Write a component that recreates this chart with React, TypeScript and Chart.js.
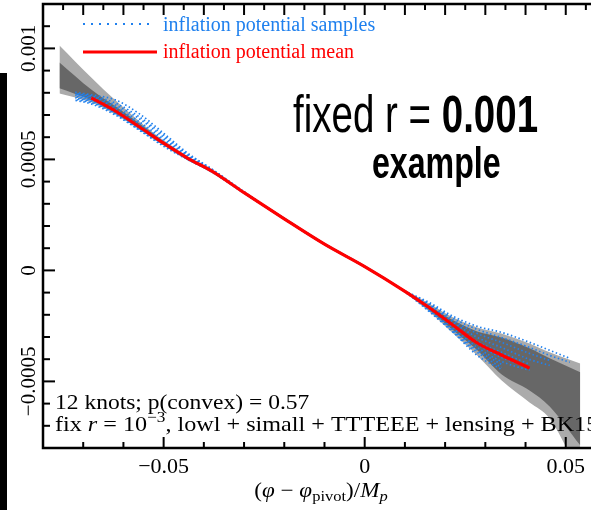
import React, { useEffect, useRef } from 'react';
import { Chart, registerables } from 'chart.js';

Chart.register(...registerables);

// ---------------- data ----------------
const bandX = [-0.0759, -0.068, -0.062, -0.056, -0.05, -0.044, -0.038, -0.03, -0.02, -0.01, 0, 0.01, 0.016, 0.022, 0.028, 0.034, 0.041, 0.046, 0.0536];
const lightUpper = [0.0010135, 0.000869, 0.000766, 0.000671, 0.000586, 0.000514, 0.000454, 0.000357, 0.000239, 0.000125, 0.0000239, -0.0000874, -0.000149, -0.000212, -0.000257, -0.000284, -0.000329, -0.000369, -0.000419];
const lightLower = [0.000797, 0.000757, 0.000703, 0.000635, 0.000563, 0.000496, 0.000441, 0.000343, 0.000226, 0.000112, 0.0000104, -0.000101, -0.000185, -0.000284, -0.000383, -0.000495, -0.000595, -0.000667, -0.000923];
const darkUpper = [0.000937, 0.000815, 0.000739, 0.000662, 0.000581, 0.000512, 0.000452, 0.000355, 0.000237, 0.000123, 0.0000216, -0.0000896, -0.000158, -0.000225, -0.000275, -0.000302, -0.000351, -0.000396, -0.000459];
const darkLower = [0.00082, 0.000766, 0.000707, 0.000637, 0.000565, 0.000499, 0.000443, 0.000345, 0.000228, 0.000114, 0.0000126, -0.0000986, -0.000178, -0.00027, -0.00036, -0.000468, -0.000541, -0.000613, -0.000788];

const meanX = [-0.068, -0.062, -0.056, -0.05, -0.044, -0.038, -0.03, -0.02, -0.01, 0, 0.01, 0.016, 0.022, 0.028, 0.034, 0.041];
const meanY = [0.000777, 0.000718, 0.000646, 0.000573, 0.000505, 0.000447, 0.00035, 0.000232, 0.000118, 0.0000171, -0.0000941, -0.000167, -0.000247, -0.000327, -0.000381, -0.00044];

const sampleX = [-0.072, -0.068, -0.062, -0.056, -0.05, -0.044, -0.038, -0.03, -0.02, -0.01, 0, 0.01, 0.016, 0.022, 0.028, 0.034, 0.041, 0.046, 0.051];
const sample1 = [0.000802, 0.000791, 0.000768, 0.000705, 0.000618, 0.000528, 0.000456, 0.000355, 0.000234, 0.00012, 0.000018, -0.0000919, -0.000144, -0.000207, -0.000252, -0.000279, -0.000324, -0.00036, -0.000396];
const sample2 = [0.000797, 0.000786, 0.000754, 0.000691, 0.000609, 0.000523, 0.000456, 0.000352, 0.000231, 0.000117, 0.0000162, -0.0000928, -0.000149, -0.000216, -0.000266, -0.000302, -0.000347, -0.000383, -0.000414];
const sample3 = [0.000795, 0.000782, 0.000745, 0.000682, 0.0006, 0.000519, 0.000452, 0.00035, 0.000232, 0.000118, 0.0000171, -0.0000937, -0.000153, -0.000225, -0.000284, -0.000324, -0.000374, -0.000405];
const sample4 = [0.000791, 0.000777, 0.000736, 0.000669, 0.000591, 0.000514, 0.000452, 0.00035, 0.000234, 0.00012, 0.000018, -0.0000941, -0.000158, -0.000234, -0.000302, -0.000347, -0.000401, -0.000428];
const sample5 = [0.000788, 0.000773, 0.000727, 0.00066, 0.000582, 0.00051, 0.000447, 0.00035, 0.000231, 0.000117, 0.0000162, -0.0000946, -0.000162, -0.000243, -0.00032, -0.000369, -0.000423];
const sample6 = [0.000784, 0.000768, 0.000718, 0.000651, 0.000577, 0.000505, 0.000447, 0.00035, 0.000232, 0.000118, 0.0000171, -0.0000946, -0.000167, -0.000252, -0.000333, -0.000392, -0.000437];
const sample7 = [0.000779, 0.000764, 0.000714, 0.000642, 0.000573, 0.000503, 0.000445, 0.00035, 0.000234, 0.00012, 0.000018, -0.000095, -0.000171, -0.000261, -0.000347, -0.00041, -0.00045];
const sample8 = [0.000775, 0.000759, 0.000709, 0.000637, 0.000568, 0.000501, 0.000445, 0.00035, 0.000231, 0.000117, 0.0000162, -0.0000955, -0.000176, -0.00027, -0.00036, -0.000423];
const sample9 = [0.00077, 0.000755, 0.000705, 0.000633, 0.000564, 0.000501, 0.000443, 0.000348, 0.000232, 0.000118, 0.0000171, -0.0000959, -0.00018, -0.000275, -0.000369, -0.000437];
const sample10 = [0.000766, 0.00075, 0.0007, 0.000631, 0.000559, 0.000499, 0.000443, 0.000348, 0.000234, 0.00012, 0.000018, -0.0000968, -0.000185, -0.000279, -0.000383, -0.000446];
const samples = [sample1, sample2, sample3, sample4, sample5, sample6, sample7, sample8, sample9, sample10];

const xTickValues = [-0.05, 0, 0.05];
const xTickLabels = ['\u22120.05', '0', '0.05'];
const yTickValues = [-0.0005, 0, 0.0005, 0.001];
const yTickLabels = ['\u22120.0005', '0', '0.0005', '0.001'];

const legendLabels = ['inflation potential samples', 'inflation potential mean'];
const bigLine1a = 'fixed r = ';
const bigLine1b = '0.001';
const bigLine2 = 'example';
const noteLine1 = '12 knots; p(convex) = 0.57';
const noteLine2a = 'fix ';
const noteLine2r = 'r';
const noteLine2b = ' = 10';
const noteLine2sup = '\u22123';
const noteLine2c = ', lowl + simall + TTTEEE + lensing + BK15';

// ---------------- style ----------------
const BLUE = '#1f80ee';
const RED = '#ff0000';
const SERIF = '"Liberation Serif", "Times New Roman", serif';
const SANS = '"Liberation Sans", Arial, sans-serif';

const pts = (xs: number[], ys: number[]) => ys.map((y, i) => ({ x: xs[i], y }));

type Part = { text: string; font: string; dy?: number };
function runParts(ctx: CanvasRenderingContext2D, parts: Part[], x: number, y: number, draw = true) {
  let cx = x;
  for (const p of parts) {
    ctx.font = p.font;
    if (draw) ctx.fillText(p.text, cx, y + (p.dy || 0));
    cx += ctx.measureText(p.text).width;
  }
  return cx - x;
}

const decorPlugin = {
  id: 'decor',
  afterDraw(chart: any) {
    const { ctx, chartArea: ca, scales } = chart;
    const xs = scales.x;
    const ys = scales.y;
    ctx.save();
    ctx.textAlign = 'left';
    ctx.textBaseline = 'alphabetic';

    // black bar at the far left (cropped neighbour)
    ctx.fillStyle = '#000';
    ctx.fillRect(0, 73, 7, 437);

    // frame
    ctx.strokeStyle = '#000';
    ctx.lineWidth = 2.5;
    ctx.beginPath();
    ctx.moveTo(ca.right + 5, ca.top);
    ctx.lineTo(ca.left, ca.top);
    ctx.lineTo(ca.left, ca.bottom);
    ctx.lineTo(ca.right + 5, ca.bottom);
    ctx.stroke();

    // ticks
    ctx.lineWidth = 2;
    const seg = (x1: number, y1: number, x2: number, y2: number) => {
      ctx.beginPath();
      ctx.moveTo(x1, y1);
      ctx.lineTo(x2, y2);
      ctx.stroke();
    };
    for (let i = -15; i <= 11; i++) {
      const px = xs.getPixelForValue(i * 0.005);
      if (px <= ca.left + 2 || px > ca.right) continue;
      seg(px, ca.top, px, ca.top + (i % 2 === 0 ? 11 : 6));
    }
    for (let i = -7; i <= 5; i++) {
      const px = xs.getPixelForValue(i * 0.01);
      if (px <= ca.left + 2 || px > ca.right) continue;
      seg(px, ca.bottom, px, ca.bottom - (i % 5 === 0 ? 11 : 6));
    }
    for (let i = -7; i <= 11; i++) {
      const py = ys.getPixelForValue(i * 0.0001);
      seg(ca.left, py, ca.left + (i % 5 === 0 ? 12 : 7), py);
    }

    // y tick labels (rotated)
    ctx.fillStyle = '#000';
    ctx.font = `21px ${SERIF}`;
    yTickValues.forEach((v, i) => {
      const py = ys.getPixelForValue(v);
      ctx.save();
      ctx.translate(35, py);
      ctx.rotate(-Math.PI / 2);
      ctx.textAlign = 'center';
      ctx.fillText(yTickLabels[i], 0, 0);
      ctx.restore();
    });

    // legend
    ctx.strokeStyle = BLUE;
    ctx.lineWidth = 2;
    ctx.setLineDash([2, 6]);
    seg(83, 24, 150, 24);
    ctx.setLineDash([]);
    ctx.strokeStyle = RED;
    ctx.lineWidth = 3;
    seg(83, 52, 157, 52);
    ctx.font = `20px ${SERIF}`;
    ctx.fillStyle = BLUE;
    ctx.fillText(legendLabels[0], 163, 31);
    ctx.fillStyle = RED;
    ctx.fillText(legendLabels[1], 163, 58);

    // big label
    ctx.fillStyle = '#000';
    ctx.save();
    ctx.translate(293, 132);
    ctx.scale(0.755, 1);
    runParts(ctx, [
      { text: bigLine1a, font: `51px ${SANS}` },
      { text: bigLine1b, font: `bold 51px ${SANS}` },
    ], 0, 0);
    ctx.restore();
    ctx.save();
    ctx.translate(372, 178);
    ctx.scale(0.73, 1);
    ctx.font = `bold 44px ${SANS}`;
    ctx.fillText(bigLine2, 0, 0);
    ctx.restore();

    // notes
    ctx.save();
    ctx.translate(55, 409);
    ctx.scale(1.12, 1);
    ctx.font = `21px ${SERIF}`;
    ctx.fillText(noteLine1, 0, 0);
    ctx.restore();
    ctx.save();
    ctx.translate(55, 431);
    ctx.scale(1.15, 1);
    runParts(ctx, [
      { text: noteLine2a, font: `21px ${SERIF}` },
      { text: noteLine2r, font: `italic 21px ${SERIF}` },
      { text: noteLine2b, font: `21px ${SERIF}` },
      { text: noteLine2sup, font: `15px ${SERIF}`, dy: -9 },
      { text: noteLine2c, font: `21px ${SERIF}` },
    ], 0, 0);
    ctx.restore();

    // x axis title
    const titleParts: Part[] = [
      { text: '(', font: `21px ${SERIF}` },
      { text: '\u03c6', font: `italic 21px ${SERIF}` },
      { text: ' \u2212 ', font: `21px ${SERIF}` },
      { text: '\u03c6', font: `italic 21px ${SERIF}` },
      { text: 'pivot', font: `15px ${SERIF}`, dy: 4 },
      { text: ')/', font: `21px ${SERIF}` },
      { text: 'M', font: `italic 21px ${SERIF}` },
      { text: 'p', font: `italic 15px ${SERIF}`, dy: 4 },
    ];
    const tw = runParts(ctx, titleParts, 0, 0, false) * 1.1;
    ctx.save();
    ctx.translate(321 - tw / 2, 497);
    ctx.scale(1.1, 1);
    runParts(ctx, titleParts, 0, 0);
    ctx.restore();

    ctx.restore();
  },
};

export default function App() {
  const canvasRef = useRef<HTMLCanvasElement | null>(null);

  useEffect(() => {
    if (!canvasRef.current) return;
    const lineBase = { pointRadius: 0, cubicInterpolationMode: 'monotone' as const, borderCapStyle: 'butt' as const };
    const sampleSets = samples.map((s, k) => ({
      ...lineBase,
      label: `sample ${k + 1}`,
      data: pts(sampleX, s),
      borderColor: BLUE,
      borderWidth: 1.7,
      borderDash: [1.5, 2.5],
      borderDashOffset: (k * 1.3) % 4,
      fill: false,
      order: 1,
    }));
    const chart = new Chart(canvasRef.current, {
      type: 'line',
      data: {
        datasets: [
          { ...lineBase, label: 'mean', data: pts(meanX, meanY), borderColor: RED, borderWidth: 3.2, fill: false, order: 0 },
          ...sampleSets,
          { ...lineBase, label: 'dark upper', data: pts(bandX, darkUpper), borderColor: 'rgba(0,0,0,0)', borderWidth: 0, backgroundColor: '#676767', fill: '+1', order: 2 },
          { ...lineBase, label: 'dark lower', data: pts(bandX, darkLower), borderColor: 'rgba(0,0,0,0)', borderWidth: 0, fill: false, order: 2 },
          { ...lineBase, label: 'light upper', data: pts(bandX, lightUpper), borderColor: 'rgba(0,0,0,0)', borderWidth: 0, backgroundColor: '#ababab', fill: '+1', order: 3 },
          { ...lineBase, label: 'light lower', data: pts(bandX, lightLower), borderColor: 'rgba(0,0,0,0)', borderWidth: 0, fill: false, order: 3 },
        ] as any,
      },
      options: {
        animation: false,
        responsive: false,
        devicePixelRatio: 1,
        layout: { padding: { top: 4, right: 0, left: 0, bottom: 0 } },
        plugins: { legend: { display: false }, tooltip: { enabled: false }, title: { display: false } },
        scales: {
          x: {
            type: 'linear',
            min: -0.08,
            max: 0.056,
            afterBuildTicks: (s: any) => {
              s.ticks = xTickValues.map((v) => ({ value: v }));
            },
            afterFit: (s: any) => {
              s.height = 62;
            },
            ticks: {
              autoSkip: false,
              maxRotation: 0,
              minRotation: 0,
              padding: 6,
              color: '#000',
              font: { family: '"Liberation Serif", "Times New Roman", serif', size: 22 },
              callback: (_v: any, i: number) => xTickLabels[i],
            },
            grid: { display: false, drawTicks: false },
            border: { display: false },
          },
          y: {
            type: 'linear',
            min: -0.0008,
            max: 0.0012,
            afterFit: (s: any) => {
              s.width = 43;
            },
            ticks: { display: false },
            grid: { display: false, drawTicks: false },
            border: { display: false },
          },
        },
      } as any,
      plugins: [decorPlugin],
    });
    return () => chart.destroy();
  }, []);

  return (
    <div style={{ position: 'fixed', left: 0, top: 0, width: 591, height: 510, background: '#fff' }}>
      <canvas ref={canvasRef} width={591} height={510} />
    </div>
  );
}
